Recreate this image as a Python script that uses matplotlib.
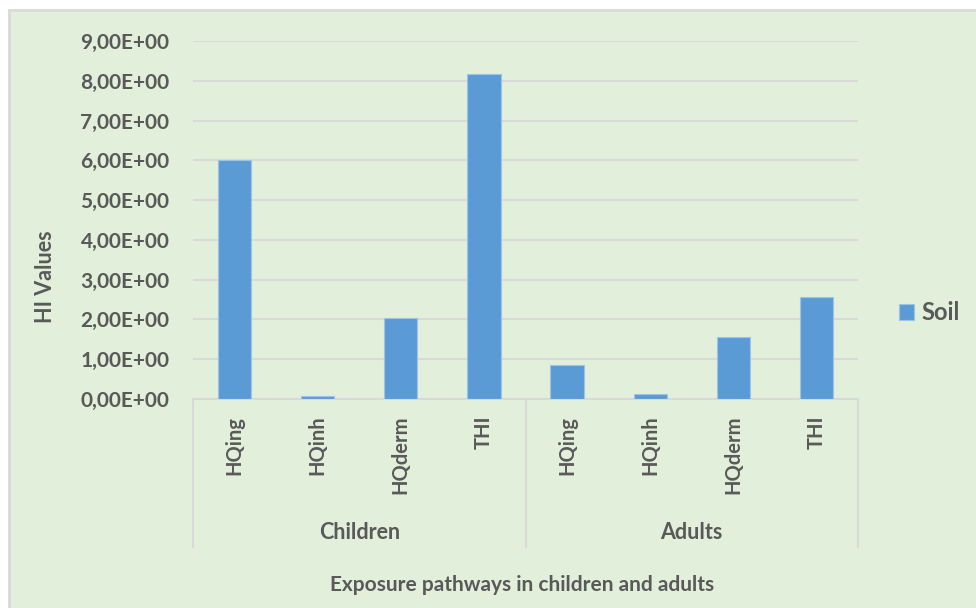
import matplotlib.pyplot as plt
from matplotlib.patches import Rectangle
from matplotlib.ticker import FuncFormatter

groups = ["Children", "Adults"]
pathways = ["HQing", "HQinh", "HQderm", "THI"]
soil = [6.01, 0.08, 2.04, 8.17, 0.86, 0.13, 1.55, 2.56]

plt.rcParams['font.family'] = ['Lato', 'DejaVu Sans']
txt = "#595959"
grid = "#D9D9D9"

fig = plt.figure(figsize=(9.76, 6.08), dpi=100)
fig.patch.set_facecolor("white")
# green chart area with grey frame
fig.patches.append(Rectangle((9/976, -0.01), 1.0, 1 - 10/608 + 0.01,
                             transform=fig.transFigure, facecolor="#E2EFDA",
                             edgecolor=grid, lw=2, zorder=-10))

ax = fig.add_axes([193/976, 1 - 399/608, (858 - 193)/976, (399 - 41)/608])
ax.set_facecolor("none")

labels = pathways * len(groups)
x = list(range(len(soil)))
ax.bar(x, soil, width=0.4, color="#5B9BD5", edgecolor="#9DC3E6", lw=0.8,
       zorder=3, label="Soil")

ax.set_xlim(-0.5, len(soil) - 0.5)
ax.set_ylim(0, 9)
ax.set_yticks(range(0, 10))
ax.yaxis.set_major_formatter(FuncFormatter(lambda v, p: f"{v:.2f}".replace(".", ",") + "E+00"))
ax.grid(axis="y", color=grid, lw=1.5, zorder=0)
ax.tick_params(axis="y", length=0, pad=17, labelsize=15, labelcolor=txt)
for t in ax.get_yticklabels():
    t.set_fontweight("bold")

ax.set_xticks(x)
ax.set_xticklabels(labels, rotation=90, fontsize=14.5, fontweight="bold", color=txt, va="top")
ax.tick_params(axis="x", length=0, pad=12)

for s in ["top", "right", "left"]:
    ax.spines[s].set_visible(False)
ax.spines["bottom"].set_color(grid)
ax.spines["bottom"].set_linewidth(1.5)

# group separators and group labels
trans = ax.get_xaxis_transform()
n = len(pathways)
for b in range(len(groups) + 1):
    xb = b * n - 0.5
    ax.plot([xb, xb], [0, -0.413], transform=trans, color=grid, lw=1.5, clip_on=False)
for i, g in enumerate(groups):
    ax.text(i * n + (n - 1) / 2, -0.374, g, transform=trans, ha="center", va="center",
            fontsize=15.5, fontweight="bold", color=txt)

fig.text(522/976, 1 - 585/608, "Exposure pathways in children and adults", ha="center",
         va="center", fontsize=15, fontweight="bold", color=txt)
fig.text(45/976, 1 - 277/608, "HI Values", ha="center", va="center", rotation=90,
         fontsize=15.5, fontweight="bold", color=txt)

leg = ax.legend(loc="center left", bbox_to_anchor=(899/976, 1 - 313/608),
                bbox_transform=fig.transFigure, frameon=False, handlelength=0.65,
                handleheight=0.65, handletextpad=0.3, borderpad=0, borderaxespad=0,
                prop={"size": 17, "weight": "bold"})
for t in leg.get_texts():
    t.set_color(txt)

fig.savefig("out.png", dpi=100)
